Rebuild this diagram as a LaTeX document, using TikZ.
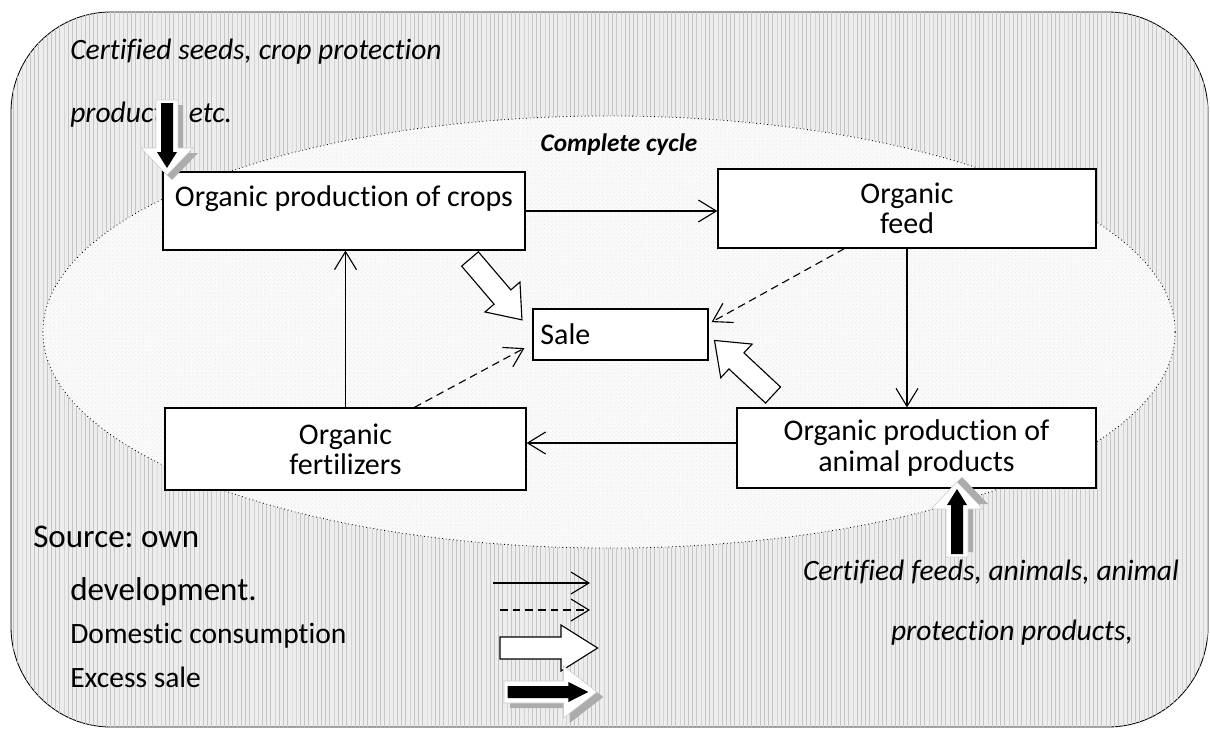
\documentclass[tikz,border=0pt]{standalone}
\usepackage{fontspec}
\setmainfont{Carlito}[Ligatures=NoCommon]
\usetikzlibrary{arrows.meta}
\usetikzlibrary{calc}
\usetikzlibrary{patterns}

\tikzset{
  box/.style={draw=black, fill=white, line width=0.8pt, inner sep=0pt, align=center,
    font=\fontsize{21.3}{21.5}\selectfont},
  flow/.style={line width=0.8pt, -{Straight Barb[length=4.5mm,width=5.5mm]}},
  owncons/.style={flow, dash pattern=on 5.5pt off 3.5pt},
  hollow/.pic={\draw[line width=0.8pt, fill=white] (0,-11) -- (50,-11) -- (50,-23) -- (80,0)
      -- (50,23) -- (50,11) -- (0,11) -- cycle;},
  supply/.pic={
      \fill[gray!65] (5,-6) -- (53,-6) -- (53,-21) -- (80,5) -- (53,31) -- (53,16) -- (5,16) -- cycle;
      \draw[gray!40, fill=white] (0,-11) -- (48,-11) -- (48,-26) -- (75,0) -- (48,26) -- (48,11) -- (0,11) -- cycle;
      \fill[black] (3,-6) -- (52,-6) -- (52,-10) -- (68,0) -- (52,10) -- (52,6) -- (3,6) -- cycle;},
  note/.style={inner sep=0pt, font=\fontsize{21}{22}\selectfont\itshape},
  legend/.style={inner sep=0pt, anchor=west},
}

\begin{document}
\frenchspacing
\begin{tikzpicture}[x=0.025cm, y=-0.025cm]
    \useasboundingbox (0,0) rectangle (1210,731);
    % frame and cycle
    \draw[fill=gray!14, postaction={pattern=vertical lines, pattern color=gray!45},
          rounded corners=2.5cm, line width=0.6pt] (11,12) rectangle (1208,727);
    \draw[fill=gray!4, postaction={pattern=north east lines, pattern color=gray!22},
          dotted, line width=0.6pt] (609,332) ellipse [x radius=14.15cm, y radius=5.4cm];

    \node[note] (seeds1) [anchor=west] at (70,52) {Certified seeds, crop protection};
    \node[note] (seeds2) [anchor=west] at (70,115) {products, etc.};
    \node[inner sep=0pt, font=\fontsize{18}{19}\selectfont\bfseries\itshape] (cycle) at (619,145) {Complete cycle};

    % boxes
    \node[box, minimum width=9.05cm, minimum height=1.95cm] (crops) at (344,211)
        {Organic production of crops\\ \mbox{}};
    \node[box, minimum width=9.45cm, minimum height=1.975cm] (feed) at (907,208.5)
        {Organic\\feed};
    \node[box, minimum width=4.375cm, minimum height=1.275cm, align=left, text width=4.0cm] (sale) at (620.5,334.5)
        {Sale};
    \node[box, minimum width=9.025cm, minimum height=2.05cm] (fert) at (345.5,449)
        {Organic\\fertilizers};
    \node[box, minimum width=8.975cm, minimum height=2cm] (animal) at (916.5,448)
        {Organic production of\\animal products};

    % cycle flows
    \draw[flow] (crops.east) -- (crops.east -| feed.west);
    \draw[flow] (feed.south) -- (feed.south |- animal.north);
    \draw[flow] ([yshift=0.125cm]animal.west) -- ([yshift=0.125cm]animal.west -| fert.east);
    \draw[flow] (fert.north) -- (fert.north |- crops.south);
    \draw[owncons] ($(feed.south west)!0.335!(feed.south east)$) -- ([shift={(0.075cm,0.31cm)}]sale.east);
    \draw[owncons] ($(fert.north west)!0.69!(fert.north east)$) -- ([shift={(-0.2cm,-0.34cm)}]sale.west);

    % excess sale
    \pic[rotate=-49.5] (sellcrops) at (470,259) {hollow};
    \pic[rotate=137] (sellanimal) at (773,395) {hollow};

    % purchased inputs
    \pic[rotate=-90, yscale=-1] (inseeds) at (167,100) {supply};
    \pic[rotate=90] (infeeds) at (957,557) {supply};
    \node[note] (feeds1) at (991,572) {Certified feeds, animals, animal};
    \node[note] (feeds2) at (1012,633) {protection products,};

    % legend
    \node[legend, font=\fontsize{23.5}{25}\selectfont] (src1) at (33,537) {Source: own};
    \node[legend, font=\fontsize{23.5}{25}\selectfont] (src2) at (70,592) {development.};
    \node[legend, font=\fontsize{21}{22}\selectfont] (dom) at (70,636) {Domestic consumption};
    \node[legend, font=\fontsize{21}{22}\selectfont] (exc) at (70,677) {Excess sale};
    \coordinate (l1a) at (493,583);
    \coordinate (l1b) at (590,583);
    \coordinate (l2a) at (500,610);
    \coordinate (l2b) at (590,610);
    \draw[flow] (l1a) -- (l1b);
    \draw[owncons] (l2a) -- (l2b);
    \pic[xscale=1.22] (legsale) at (500,648) {hollow};
    \pic[xscale=1.24] (legbuy) at (504,692) {supply};
\end{tikzpicture}
\end{document}
